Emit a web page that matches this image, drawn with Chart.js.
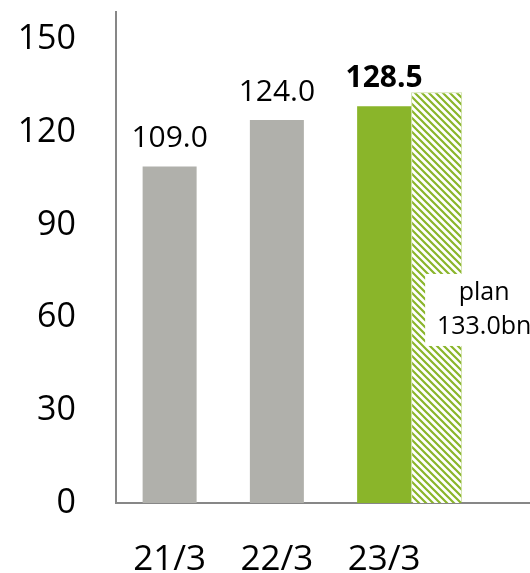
<!DOCTYPE html>
<html>
<head>
<meta charset="utf-8">
<script src="https://cdn.jsdelivr.net/npm/chart.js@4.4.1/dist/chart.umd.min.js"></script>
<style>
  html, body { margin: 0; padding: 0; width: 530px; height: 573px; overflow: hidden; background: #fff; }
</style>
</head>
<body>
<canvas id="myChart" width="560" height="573"></canvas>
<script>
// data
const categories = ['21/3', '22/3', '23/3', ''];
const actualValues = [109.0, 124.0, 128.5, null];
const planCategory = '23/3';
const planValue = 133.0;
const planText = ['plan', '133.0bn'];
const yTicks = [0, 30, 60, 90, 120, 150];

const FONT = "'Open Sans', sans-serif";
const GRAY = '#b0b0ab';
const GREEN = '#8ab52a';
const AXIS = '#878787';
const BAR_W = 54;
const PLAN_W = 51;

// diagonal hatch for the plan bar
function makeHatch(color) {
  const p = 7;
  const c = document.createElement('canvas');
  c.width = p; c.height = p;
  const g = c.getContext('2d');
  g.fillStyle = '#fff';
  g.fillRect(0, 0, p, p);
  g.strokeStyle = color;
  g.lineWidth = 2.2;
  g.beginPath();
  g.moveTo(-1, -1); g.lineTo(p + 1, p + 1);
  g.moveTo(-2, p - 2); g.lineTo(2, p + 2);
  g.moveTo(p - 2, -2); g.lineTo(p + 2, 2);
  g.stroke();
  return g.createPattern(c, 'repeat');
}

const ctx = document.getElementById('myChart').getContext('2d');
const planIndex = categories.indexOf(planCategory);
const latestIndex = planIndex;

const barColors = categories.map((c, i) => i === latestIndex ? GREEN : GRAY);
const planData = categories.map((c, i) => i === planIndex ? planValue : null);

// plan bar sits right beside the actual bar of the same category
const shiftPlan = {
  id: 'shiftPlan',
  afterDatasetsUpdate(chart) {
    chart.getDatasetMeta(1).data.forEach(el => {
      el.x += (BAR_W + PLAN_W) / 2;
    });
  }
};

// value labels above the bars + the plan note
const labelsPlugin = {
  id: 'labels',
  afterDatasetsDraw(chart) {
    const c = chart.ctx;
    const meta = chart.getDatasetMeta(0);
    c.save();
    c.fillStyle = '#000';
    c.textAlign = 'center';
    c.textBaseline = 'middle';
    meta.data.forEach((el, i) => {
      const v = actualValues[i];
      if (v == null) return;
      c.font = (i === latestIndex ? 'bold ' : '') + '30px ' + FONT;
      c.fillText(v.toFixed(1), el.x, el.y - 28);
    });

    const plan = chart.getDatasetMeta(1).data[planIndex];
    const left = plan.x - plan.width / 2;
    const right = plan.x + plan.width / 2;
    const mid = plan.y + (plan.base - plan.y) * 0.53;
    c.fillStyle = '#fff';
    c.fillRect(left + 14, mid - 36, 200, 72);
    c.fillStyle = '#000';
    c.font = '25px ' + FONT;
    c.fillText(planText[0], right + 22, mid - 17);
    c.fillText(planText[1], right + 22, mid + 17);
    c.restore();
  }
};

var myChart = new Chart(ctx, {
  type: 'bar',
  data: {
    labels: categories,
    datasets: [{
      label: 'actual',
      data: actualValues,
      backgroundColor: barColors,
      maxBarThickness: BAR_W,
      grouped: false
    }, {
      label: 'plan',
      data: planData,
      backgroundColor: makeHatch(GREEN),
      borderColor: 'rgba(138,181,42,0.45)',
      borderWidth: 1,
      maxBarThickness: PLAN_W,
      grouped: false
    }]
  },
  options: {
    responsive: false,
    animation: false,
    layout: { padding: { left: 0, top: 12, right: 15, bottom: 0 } },
    plugins: {
      legend: { display: false },
      tooltip: { enabled: false }
    },
    scales: {
      x: {
        offset: true,
        grid: { display: false, drawTicks: false },
        border: { display: true, color: AXIS, width: 2 },
        ticks: { color: '#000', font: { family: FONT, size: 35 }, padding: 36, maxRotation: 0, autoSkip: false },
        afterFit(scale) {
          scale.height = 70;
          scale.paddingLeft = 0;
          scale.paddingRight = 0;
        }
      },
      y: {
        min: 0,
        max: 159,
        grid: { display: false, drawTicks: false },
        border: { display: true, color: AXIS, width: 2 },
        ticks: { color: '#000', font: { family: FONT, size: 34 }, padding: 40 },
        afterBuildTicks(scale) {
          scale.ticks = yTicks.map(v => ({ value: v }));
        },
        afterFit(scale) {
          scale.width = 116;
          scale.paddingTop = 0;
          scale.paddingBottom = 0;
        }
      }
    }
  },
  plugins: [shiftPlan, labelsPlugin]
});
</script>
</body>
</html>
